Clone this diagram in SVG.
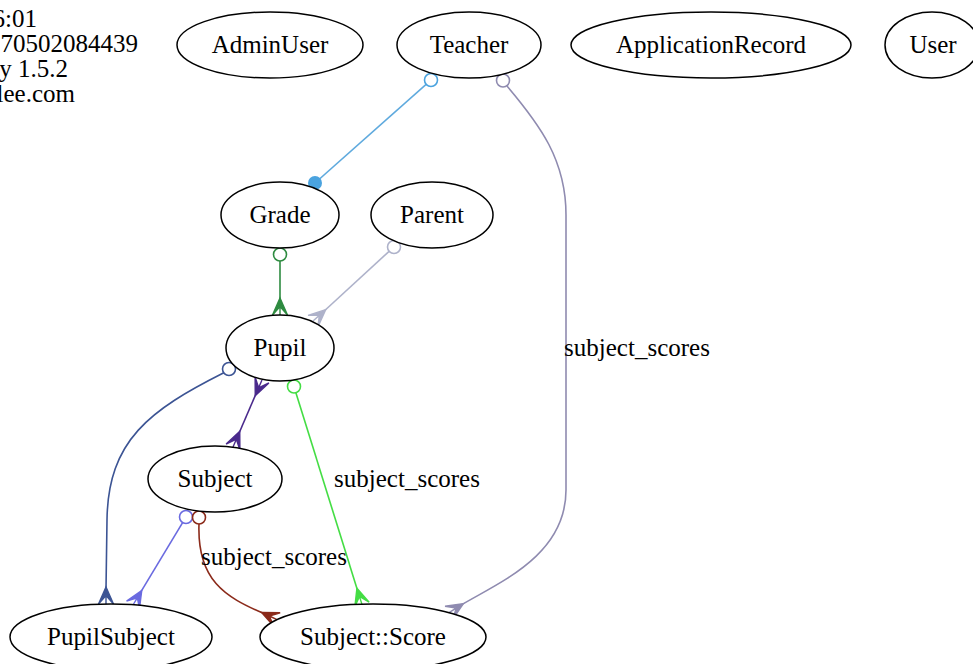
<svg xmlns="http://www.w3.org/2000/svg" xmlns:xlink="http://www.w3.org/1999/xlink" width="973" height="664" viewBox="0 0 973 664">
<style>
text{font-family:"Liberation Serif","Times New Roman",serif;font-size:25px;fill:#000}
.n ellipse{fill:#fff;stroke:#000;stroke-width:1.5}
.n text{text-anchor:middle}
.e path.l{fill:none;stroke-width:1.6}
.e circle.o{fill:#fff;stroke-width:1.6}
.crow{fill:currentColor;stroke:currentColor;stroke-width:1.4;stroke-linejoin:miter}
.lbl{text-anchor:middle}
</style>
<defs>
<path id="crow" class="crow" d="M-17,0 L0,-7.5 L-8.5,0 L0,0 L-8.5,0 L0,7.5 Z"/>
</defs>
<rect width="973" height="664" fill="#fff"/>
<g id="title">
<text x="37" y="27" text-anchor="end">6:01</text>
<text x="138" y="52" text-anchor="end">70502084439</text>
<text x="68" y="77" text-anchor="end">y 1.5.2</text>
<text x="75" y="102" text-anchor="end">lee.com</text>
</g>
<g id="edges" class="e">
<g id="e-teacher-grade">
<path class="l" d="M426.1,84.3 L315,183" stroke="#5faade"/>
<circle class="o" cx="431" cy="80" r="6.5" stroke="#4aa3df"/>
<circle cx="315" cy="183" r="7" fill="#4aa3df"/>
</g>
<g id="e-teacher-score" color="#8f8bb0">
<path class="l" d="M507,86 C540,125 566,160 566,215 L566,490 C566,555 500,582 461.75,604.65" stroke="#8f8bb0"/>
<circle class="o" cx="503" cy="80.5" r="6.5" stroke="#8f8bb0"/>
<use href="#crow" xlink:href="#crow" transform="translate(449,612.6) rotate(148.1)"/>
<text class="lbl" x="637" y="356">subject_scores</text>
</g>
<g id="e-grade-pupil" color="#2e8b40">
<path class="l" d="M280,261 L280,300" stroke="#2e8b40"/>
<circle class="o" cx="280" cy="254.5" r="6.5" stroke="#2e8b40"/>
<use href="#crow" xlink:href="#crow" transform="translate(280,315) rotate(90)"/>
</g>
<g id="e-parent-pupil" color="#aeb2ca">
<path class="l" d="M389.1,251.3 L324.2,311" stroke="#aeb2ca"/>
<circle class="o" cx="394" cy="247" r="6.5" stroke="#aeb2ca"/>
<use href="#crow" xlink:href="#crow" transform="translate(313,321) rotate(138.3)"/>
</g>
<g id="e-pupil-pupilsubject" color="#3c5494">
<path class="l" d="M223.8,372.8 C150,410 108,440 107,520 L106,589" stroke="#3c5494"/>
<circle class="o" cx="229" cy="369" r="6.5" stroke="#3c5494"/>
<use href="#crow" xlink:href="#crow" transform="translate(106,604) rotate(90)"/>
</g>
<g id="e-pupil-subject" color="#4a2a8c">
<path class="l" d="M256,393.8 L239,433.2" stroke="#4a2a8c"/>
<use href="#crow" xlink:href="#crow" transform="translate(262,380) rotate(-66.6)"/>
<use href="#crow" xlink:href="#crow" transform="translate(233,447) rotate(113.4)"/>
</g>
<g id="e-pupil-score" color="#44dd44">
<path class="l" d="M295.9,392.7 L357.5,590.2" stroke="#44dd44"/>
<circle class="o" cx="294" cy="386.5" r="6.5" stroke="#44dd44"/>
<use href="#crow" xlink:href="#crow" transform="translate(362,604.5) rotate(72.6)"/>
<text class="lbl" x="407" y="487">subject_scores</text>
</g>
<g id="e-subject-pupilsubject" color="#6a6ae0">
<path class="l" d="M182.6,522.6 L140.7,592.1" stroke="#6a6ae0"/>
<circle class="o" cx="186" cy="517" r="6.5" stroke="#6a6ae0"/>
<use href="#crow" xlink:href="#crow" transform="translate(133,605) rotate(121.05)"/>
</g>
<g id="e-subject-score" color="#8b2a1a">
<path class="l" d="M199,524 C197,580 225,597 263.4,613.3" stroke="#8b2a1a"/>
<circle class="o" cx="199" cy="517.5" r="6.5" stroke="#8b2a1a"/>
<use href="#crow" xlink:href="#crow" transform="translate(277,619.6) rotate(25)"/>
<text class="lbl" x="274" y="565">subject_scores</text>
</g>
</g>
<g id="node-adminuser" class="n"><ellipse cx="270" cy="45" rx="93" ry="33"/><text x="270" y="53">AdminUser</text></g>
<g id="node-teacher" class="n"><ellipse cx="469" cy="45" rx="72" ry="33"/><text x="469" y="53">Teacher</text></g>
<g id="node-applicationrecord" class="n"><ellipse cx="711" cy="45" rx="140" ry="33"/><text x="711" y="53">ApplicationRecord</text></g>
<g id="node-user" class="n"><ellipse cx="932" cy="45" rx="47" ry="33"/><text x="933" y="53">User</text></g>
<g id="node-grade" class="n"><ellipse cx="280" cy="215" rx="59" ry="33"/><text x="280" y="223">Grade</text></g>
<g id="node-parent" class="n"><ellipse cx="432" cy="215" rx="61" ry="33"/><text x="432" y="223">Parent</text></g>
<g id="node-pupil" class="n"><ellipse cx="280" cy="348" rx="54" ry="33"/><text x="280" y="356">Pupil</text></g>
<g id="node-subject" class="n"><ellipse cx="215" cy="479" rx="67" ry="33"/><text x="215" y="487">Subject</text></g>
<g id="node-pupilsubject" class="n"><ellipse cx="111" cy="637" rx="101" ry="33"/><text x="111" y="645">PupilSubject</text></g>
<g id="node-subjectscore" class="n"><ellipse cx="373" cy="637" rx="113" ry="33"/><text x="373" y="645">Subject::Score</text></g>
</svg>
